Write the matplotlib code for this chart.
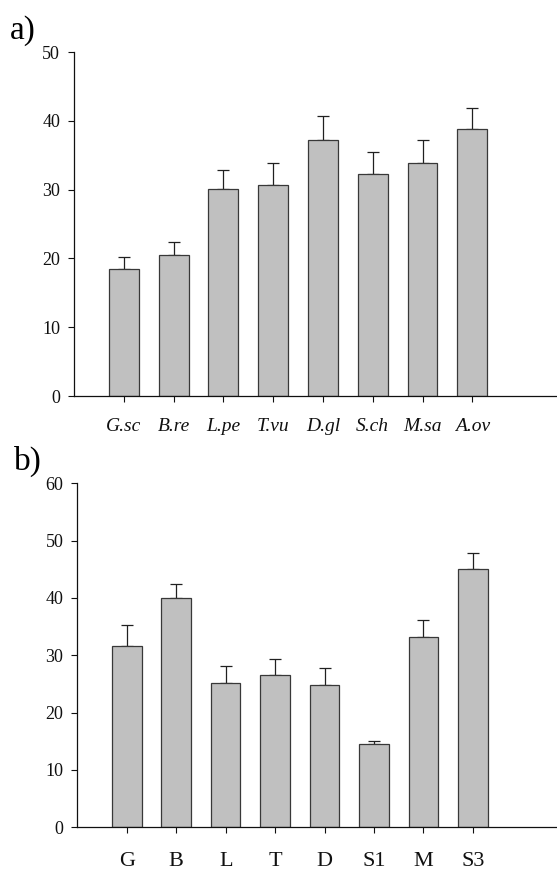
import matplotlib
matplotlib.use("Agg")
import matplotlib.pyplot as plt
import numpy as np

plt.rcParams['font.family'] = ['Liberation Serif', 'DejaVu Serif']

# Panel a: species
species = ["G.sc", "B.re", "L.pe", "T.vu", "D.gl", "S.ch", "M.sa", "A.ov"]
species_mean = [18.4, 20.5, 30.1, 30.7, 37.2, 32.3, 33.8, 38.8]
species_err = [1.8, 1.9, 2.75, 3.1, 3.45, 3.2, 3.4, 3.0]
species_ticks = [0, 10, 20, 30, 40, 50]

# Panel b: groups
groups = ["G", "B", "L", "T", "D", "S1", "M", "S3"]
group_mean = [31.7, 40.0, 25.2, 26.6, 24.9, 14.5, 33.2, 45.1]
group_err = [3.5, 2.5, 2.9, 2.8, 2.95, 0.5, 2.9, 2.75]
group_ticks = [0, 10, 20, 30, 40, 50, 60]

W, H = 557, 871
fig = plt.figure(figsize=(W / 100, H / 100), dpi=100)

def px_axes(left, top, right, bottom):
    return fig.add_axes([left / W, 1 - bottom / H, (right - left) / W, (bottom - top) / H])

def draw_panel(ax, labels, means, errs, yticks, italic, label_size, label_pad):
    x = np.arange(len(labels))
    ax.bar(x, means, width=0.6, color="#c0c0c0", edgecolor="#383838", linewidth=0.9,
           zorder=2)
    ax.errorbar(x, means, yerr=[np.zeros(len(errs)), errs], fmt="none",
                ecolor="#202020", elinewidth=0.9, capsize=4, capthick=0.9, zorder=1)
    ax.set_xlim(-1.0, 8.7)
    ax.set_ylim(0, yticks[-1])
    ax.set_yticks(yticks)
    ax.set_xticks(x)
    ax.set_xticklabels(labels, fontstyle="italic" if italic else "normal",
                       fontsize=label_size)
    for s in ("top", "right"):
        ax.spines[s].set_visible(False)
    for s in ("left", "bottom"):
        ax.spines[s].set_linewidth(0.9)
        ax.spines[s].set_color("#101010")
    ax.tick_params(axis="y", direction="out", length=4, width=0.8, labelsize=13,
                   pad=6, colors="#101010")
    ax.tick_params(axis="x", direction="out", length=4, width=0.8, pad=label_pad,
                   colors="#101010")

ax_a = px_axes(74, 52, 557, 396)
draw_panel(ax_a, species, species_mean, species_err, species_ticks, True, 14, 12)
ax_b = px_axes(77.3, 483.3, 557, 827.3)
draw_panel(ax_b, groups, group_mean, group_err, group_ticks, False, 16, 14)

fig.text(10 / W, 1 - 39 / H, "a)", fontsize=24, ha="left", va="baseline")
fig.text(14 / W, 1 - 470 / H, "b)", fontsize=24, ha="left", va="baseline")

fig.savefig("out.png", dpi=100)
